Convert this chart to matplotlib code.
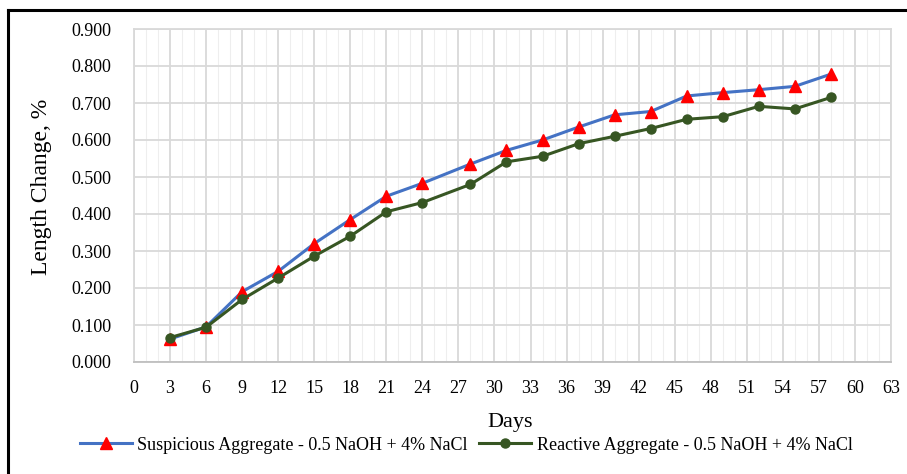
import matplotlib
matplotlib.use("Agg")
from matplotlib import pyplot as plt
from matplotlib.lines import Line2D
import numpy as np

plt.rcParams['font.family'] = ['Liberation Serif', 'DejaVu Serif']

days = [3, 6, 9, 12, 15, 18, 21, 24, 28, 31, 34, 37, 40, 43, 46, 49, 52, 55, 58]
suspicious = [0.062, 0.095, 0.190, 0.245, 0.320, 0.385, 0.448, 0.483, 0.535, 0.572,
              0.600, 0.635, 0.668, 0.677, 0.719, 0.728, 0.736, 0.745, 0.778]
reactive = [0.066, 0.094, 0.169, 0.227, 0.286, 0.340, 0.406, 0.431, 0.480, 0.541,
            0.556, 0.590, 0.610, 0.631, 0.656, 0.663, 0.691, 0.684, 0.715]
x_ticks = list(range(0, 64, 3))
y_ticks = [0.0, 0.1, 0.2, 0.3, 0.4, 0.5, 0.6, 0.7, 0.8, 0.9]

fig = plt.figure(figsize=(9.07, 4.74), dpi=100)
ax = fig.add_axes([134/907, 1-362/474, (891-134)/907, (362-29)/474])

# outer black frame (only top and left are visible in the picture)
fig.add_artist(Line2D([8/907, 1.0], [1-10/474, 1-10/474], color='black', lw=2.2,
                      transform=fig.transFigure))
fig.add_artist(Line2D([8/907, 8/907], [0.0, 1-10/474], color='black', lw=2.2,
                      transform=fig.transFigure))

ax.plot(days, suspicious, color='#4472C4', lw=2.2, marker='^', ms=8.5,
        mfc='#FF0000', mec='#FF0000', label='Suspicious Aggregate - 0.5 NaOH + 4% NaCl', zorder=3)
ax.plot(days, reactive, color='#375623', lw=2.2, marker='o', ms=6.5,
        mfc='#375623', mec='#375623', label='Reactive Aggregate - 0.5 NaOH + 4% NaCl', zorder=4)

ax.set_xlim(0, 63)
ax.set_ylim(0, 0.9)
ax.set_xticks(x_ticks)
ax.set_xticks(np.arange(0, 64, 1), minor=True)
ax.set_yticks(y_ticks)
ax.set_yticklabels(['%.3f' % v for v in y_ticks])

ax.grid(which='major', color='#d9d9d9', lw=1.3)
ax.grid(which='minor', axis='x', color='#eeeeee', lw=0.8)
ax.set_axisbelow(True)
for s in ax.spines.values():
    s.set_color('#d9d9d9')
    s.set_linewidth(1.3)
ax.spines['bottom'].set_color('#bfbfbf')
ax.tick_params(which='both', length=0)
ax.tick_params(axis='x', labelsize=13, pad=13)
ax.tick_params(axis='y', labelsize=13, pad=16.5)

fig.text(510/907, 1-422/474, 'Days', fontsize=16, ha='center', va='center')
fig.text(42/907, 1-187/474, 'Length Change, %', fontsize=17, rotation=90,
         ha='center', va='center')

fig.legend(loc='center', bbox_to_anchor=(466/907, 1-445/474), ncol=2, frameon=False,
           fontsize=13, handlelength=2.9, columnspacing=0.6, handletextpad=0.3)

fig.savefig('out.png', dpi=100)
